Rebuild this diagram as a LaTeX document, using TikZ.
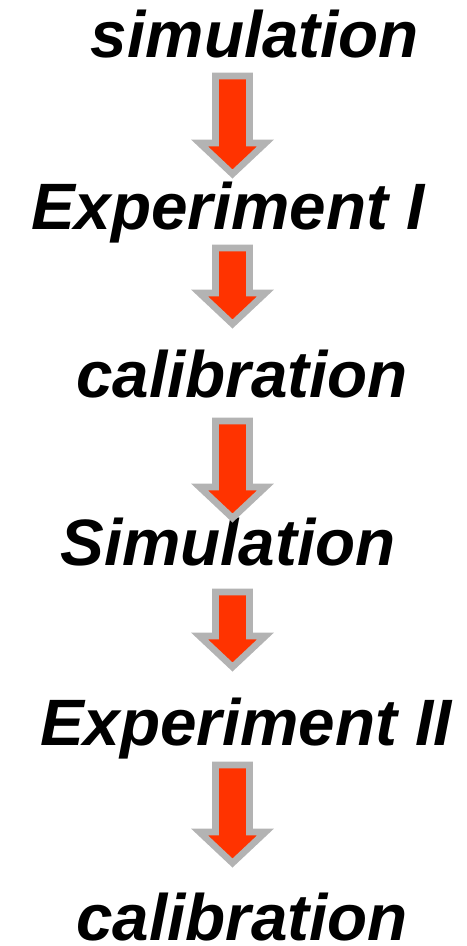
\documentclass[tikz,border=0pt]{standalone}
\usepackage{fontspec}
\setmainfont{Liberation Sans}
\usetikzlibrary{calc}
\definecolor{arrowred}{RGB}{255,51,0}
\definecolor{arrowgrey}{RGB}{179,179,179}

\begin{document}
\begin{tikzpicture}[x=0.5pt, y=-0.5pt,
  step text/.style={anchor=base, inner sep=0pt, font=\fontsize{32.8}{38}\selectfont\bfseries\itshape},
  blockarrow/.style={fill=arrowred, draw=arrowgrey, line width=3.3pt, miter limit=10}]
\useasboundingbox (0,0) rectangle (466,946);
\node[step text] (sim1) at (255,58) {simulation};
\node[step text] (exp1) at (228,230) {Experiment I};
\node[step text] (cal1) at (242,397) {calibration};
\node[step text] (sim2) at (228,565) {Simulation};
\node[step text] (exp2) at (246,745) {Experiment II};
\node[step text] (cal2) at (242,940) {calibration};
% arrows between the steps
\coordinate (a1) at (232.5,76);
\coordinate (a2) at (232.5,248);
\coordinate (a3) at (232.5,421);
\coordinate (a4) at (232.5,592);
\coordinate (a5) at (232.5,765);
\draw[blockarrow] (a1) -- ++(17,0) -- ++(0,67) -- ++(16,0) -- ++(-33,31) -- ++(-33,-31) -- ++(16,0) -- ++(0,-67) -- cycle;
\draw[blockarrow] (a2) -- ++(17,0) -- ++(0,45) -- ++(16,0) -- ++(-33,31) -- ++(-33,-31) -- ++(16,0) -- ++(0,-45) -- cycle;
\draw[blockarrow] (a3) -- ++(17,0) -- ++(0,66) -- ++(16,0) -- ++(-33,31) -- ++(-33,-31) -- ++(16,0) -- ++(0,-66) -- cycle;
\draw[blockarrow] (a4) -- ++(17,0) -- ++(0,44) -- ++(16,0) -- ++(-33,31) -- ++(-33,-31) -- ++(16,0) -- ++(0,-44) -- cycle;
\draw[blockarrow] (a5) -- ++(17,0) -- ++(0,67) -- ++(16,0) -- ++(-33,31) -- ++(-33,-31) -- ++(16,0) -- ++(0,-67) -- cycle;
\end{tikzpicture}
\end{document}
